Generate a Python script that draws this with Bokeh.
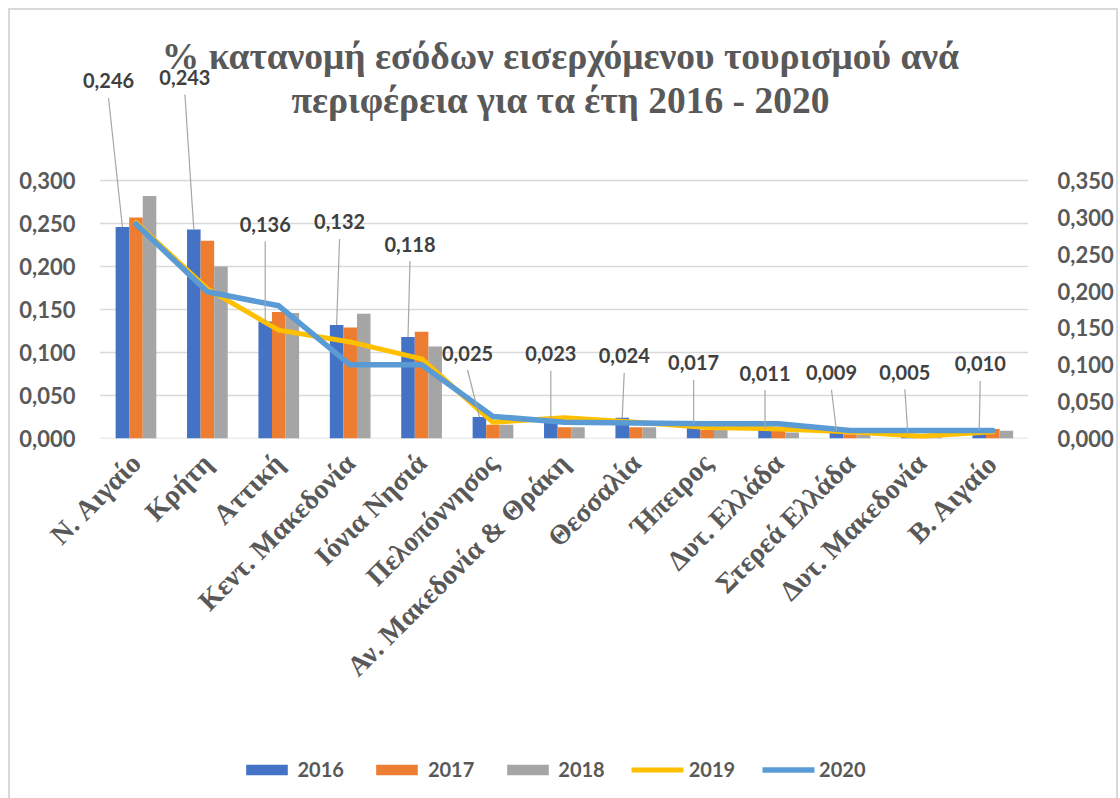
import math
import numpy as np
from bokeh.plotting import figure
from bokeh.layouts import column
from bokeh.models import (Range1d, LinearAxis, FixedTicker, CustomJSTickFormatter,
                          Legend, LegendItem, ColumnDataSource)
from bokeh.core.properties import value
from bokeh.embed import file_html
from bokeh.resources import INLINE

# ---------------- data ----------------
TITLE_LINES = ["% κατανομή εσόδων εισερχόμενου τουρισμού ανά",
               "περιφέρεια για τα έτη 2016 - 2020"]
CATEGORIES = ["N. Αιγαίο", "Κρήτη", "Αττική", "Κεντ. Μακεδονία", "Ιόνια Νησιά",
              "Πελοπόννησος", "Αν. Μακεδονία & Θράκη", "Θεσσαλία", "Ήπειρος",
              "Δυτ. Ελλάδα", "Στερεά Ελλάδα", "Δυτ. Μακεδονία", "Β. Αιγαίο"]
YEARS = ["2016", "2017", "2018", "2019", "2020"]
V2016 = [0.246, 0.243, 0.136, 0.132, 0.118, 0.025, 0.023, 0.024, 0.017, 0.011, 0.009, 0.005, 0.010]
V2017 = [0.257, 0.230, 0.147, 0.129, 0.124, 0.016, 0.013, 0.013, 0.010, 0.009, 0.005, 0.002, 0.011]
V2018 = [0.282, 0.200, 0.146, 0.145, 0.107, 0.016, 0.013, 0.013, 0.010, 0.007, 0.004, 0.002, 0.009]
V2019 = [0.293, 0.203, 0.147, 0.131, 0.108, 0.022, 0.028, 0.022, 0.015, 0.013, 0.009, 0.003, 0.009]
V2020 = [0.291, 0.199, 0.180, 0.100, 0.100, 0.030, 0.022, 0.021, 0.020, 0.020, 0.011, 0.011, 0.011]
LEFT_TICKS = [0.0, 0.05, 0.10, 0.15, 0.20, 0.25, 0.30]
RIGHT_TICKS = [0.0, 0.05, 0.10, 0.15, 0.20, 0.25, 0.30, 0.35]

# ---------------- layout / style ----------------
COLORS = ["#4472C4", "#ED7D31", "#A5A5A5", "#FFC000", "#5B9BD5"]
ORIGIN = 10                         # page position of the chart content (inside border)
FIG_W, FIG_H = 1106, 730
LEG_H = 58
CAT_LEFT, CAT_RIGHT = 100, 1038     # page x of category area
ZERO_Y, TOP_Y = 438, 12             # page y of value 0 and of frame top
X_PAD_PX = 22
MB_L = CAT_LEFT - X_PAD_PX - ORIGIN
MB_R = FIG_W - (CAT_RIGHT - ORIGIN)
MB_T = TOP_Y - ORIGIN
MB_B = FIG_H - (ZERO_Y - ORIGIN)
N = len(CATEGORIES)
PX_X = (CAT_RIGHT - CAT_LEFT) / N   # pixels per category
PX_Y = 258 / 0.30                   # pixels per unit on left axis
Y_TOP = (ZERO_Y - TOP_Y) / PX_Y
Y_TOP_R = Y_TOP * 0.35 / 0.30
X_PAD = X_PAD_PX / PX_X
BAR_W = 0.19
# data-label offsets relative to top of the 2016 bar (pixels)
LABEL_DX = [-14, -9, 0, 3, 2, -12, 0, 2, 0, 0, -5, -3, 1]
LABEL_DY = [146, 152, 97, 103, 93, 64, 65, 62, 61, 56, 58, 62, 66]
LEADER_GAP = 17
TITLE_PAGE_X = 565
TITLE_PAGE_Y = [56, 100]

GREY = "#595959"
AX_FONT = "Lato"
SERIF = "Liberation Serif"

centers = np.arange(N) + 0.5

p = figure(width=FIG_W, height=FIG_H, output_backend="svg", toolbar_location=None,
           x_range=Range1d(-X_PAD, N), y_range=Range1d(0, Y_TOP),
           min_border_left=MB_L, min_border_right=MB_R,
           min_border_top=MB_T, min_border_bottom=MB_B)
p.extra_y_ranges = {"right": Range1d(0, Y_TOP_R)}
p.outline_line_color = None
p.background_fill_color = "white"
p.border_fill_color = "white"
p.xgrid.visible = False
p.ygrid.visible = False

# gridlines across the category area
p.segment(x0=[0] * len(LEFT_TICKS), x1=[N] * len(LEFT_TICKS), y0=LEFT_TICKS, y1=LEFT_TICKS,
          line_color="#D9D9D9", line_width=1.3)

# bars
for k, vals in enumerate([V2016, V2017, V2018]):
    src = ColumnDataSource(dict(x=centers + (k - 1) * BAR_W, top=vals))
    p.vbar(x="x", top="top", width=BAR_W, source=src,
           fill_color=COLORS[k], line_color=None)

# lines on secondary axis
p.line(centers, V2019, y_range_name="right", line_color=COLORS[3],
       line_width=5, line_join="round", line_cap="round")
p.line(centers, V2020, y_range_name="right", line_color=COLORS[4],
       line_width=5.5, line_join="round", line_cap="round")

# data labels (2016) with leader lines
bx = centers - BAR_W
v16 = np.array(V2016)
lx = bx + np.array(LABEL_DX) / PX_X
ly = v16 + np.array(LABEL_DY) / PX_Y
texts = [("%.3f" % v).replace(".", ",") for v in V2016]
p.segment(x0=lx, y0=ly - LEADER_GAP / PX_Y, x1=bx, y1=v16,
          line_color="#A6A6A6", line_width=1.2)
p.text(x=lx, y=ly, text=texts, text_align="center", text_baseline="middle",
       text_font=value(AX_FONT), text_font_style="bold", text_font_size="20px",
       text_color="#404040")

# title (two centred lines)
p.text(x=[(TITLE_PAGE_X - CAT_LEFT) / PX_X] * 2,
       y=[(ZERO_Y - py) / PX_Y for py in TITLE_PAGE_Y],
       text=TITLE_LINES, text_align="center", text_baseline="middle",
       text_font=value(SERIF), text_font_style="bold", text_font_size="37.5px",
       text_color=GREY)

# axes
ly_ax = p.yaxis[0]
ly_ax.ticker = FixedTicker(ticks=LEFT_TICKS)
ly_ax.formatter = CustomJSTickFormatter(code="return tick.toFixed(3).replace('.', ',');")
ly_ax.axis_line_color = None
ly_ax.major_tick_line_color = None
ly_ax.minor_tick_line_color = None
ly_ax.major_tick_out = 0
ly_ax.minor_tick_out = 0
ly_ax.major_label_standoff = 3
ly_ax.major_label_text_font = AX_FONT
ly_ax.major_label_text_font_style = "bold"
ly_ax.major_label_text_font_size = "22px"
ly_ax.major_label_text_color = GREY

ry = LinearAxis(y_range_name="right", ticker=FixedTicker(ticks=RIGHT_TICKS),
                formatter=CustomJSTickFormatter(code="return tick.toFixed(3).replace('.', ',');"))
ry.axis_line_color = None
ry.major_tick_line_color = None
ry.minor_tick_line_color = None
ry.major_tick_out = 0
ry.minor_tick_out = 0
ry.major_label_standoff = 29
ry.major_label_text_font = AX_FONT
ry.major_label_text_font_style = "bold"
ry.major_label_text_font_size = "22px"
ry.major_label_text_color = GREY
p.add_layout(ry, "right")

xa = p.xaxis[0]
xa.ticker = FixedTicker(ticks=list(centers))
xa.formatter = CustomJSTickFormatter(args=dict(names=CATEGORIES),
                                     code="return names[Math.floor(tick)];")
xa.axis_line_color = None
xa.major_tick_line_color = None
xa.minor_tick_line_color = None
xa.major_tick_out = 0
xa.minor_tick_out = 0
xa.major_label_orientation = math.pi / 4
xa.major_label_standoff = 20
xa.major_label_text_font = SERIF
xa.major_label_text_font_style = "bold"
xa.major_label_text_font_size = "28px"
xa.major_label_text_color = GREY

# legend in its own strip below the chart (sample glyphs sit outside its visible range)
pl = figure(width=FIG_W, height=LEG_H, output_backend="svg", toolbar_location=None,
            x_range=Range1d(0, 1), y_range=Range1d(0, 1),
            x_axis_location=None, y_axis_location=None,
            min_border_left=0, min_border_right=0, min_border_top=0, min_border_bottom=0)
pl.grid.visible = False
pl.outline_line_color = None
pl.border_fill_color = "white"
leg_renderers = [pl.vbar(x=[-5], top=[-5], width=0.1, fill_color=COLORS[k], line_color=None)
                 for k in range(3)]
leg_renderers.append(pl.line(x=[-5, -4], y=[-5, -5], line_color=COLORS[3],
                             line_width=5, line_cap="round"))
leg_renderers.append(pl.line(x=[-5, -4], y=[-5, -5], line_color=COLORS[4],
                             line_width=5.5, line_cap="round"))
legend = Legend(items=[LegendItem(label=yr, renderers=[r]) for yr, r in zip(YEARS, leg_renderers)],
                orientation="horizontal", location="center")
legend.glyph_width = 52
legend.glyph_height = 13
legend.spacing = 27
legend.label_standoff = 5
legend.padding = 0
legend.margin = 0
legend.border_line_color = None
legend.background_fill_alpha = 0
legend.label_text_font = AX_FONT
legend.label_text_font_style = "bold"
legend.label_text_font_size = "20px"
legend.label_text_color = GREY
pl.add_layout(legend, "center")

layout = column(p, pl, spacing=0,
                styles={"border": "2px solid #D9D9D9", "margin-left": "8px",
                        "margin-top": "8px", "background-color": "white"})

open("out.html", "w").write(file_html(layout, INLINE))
